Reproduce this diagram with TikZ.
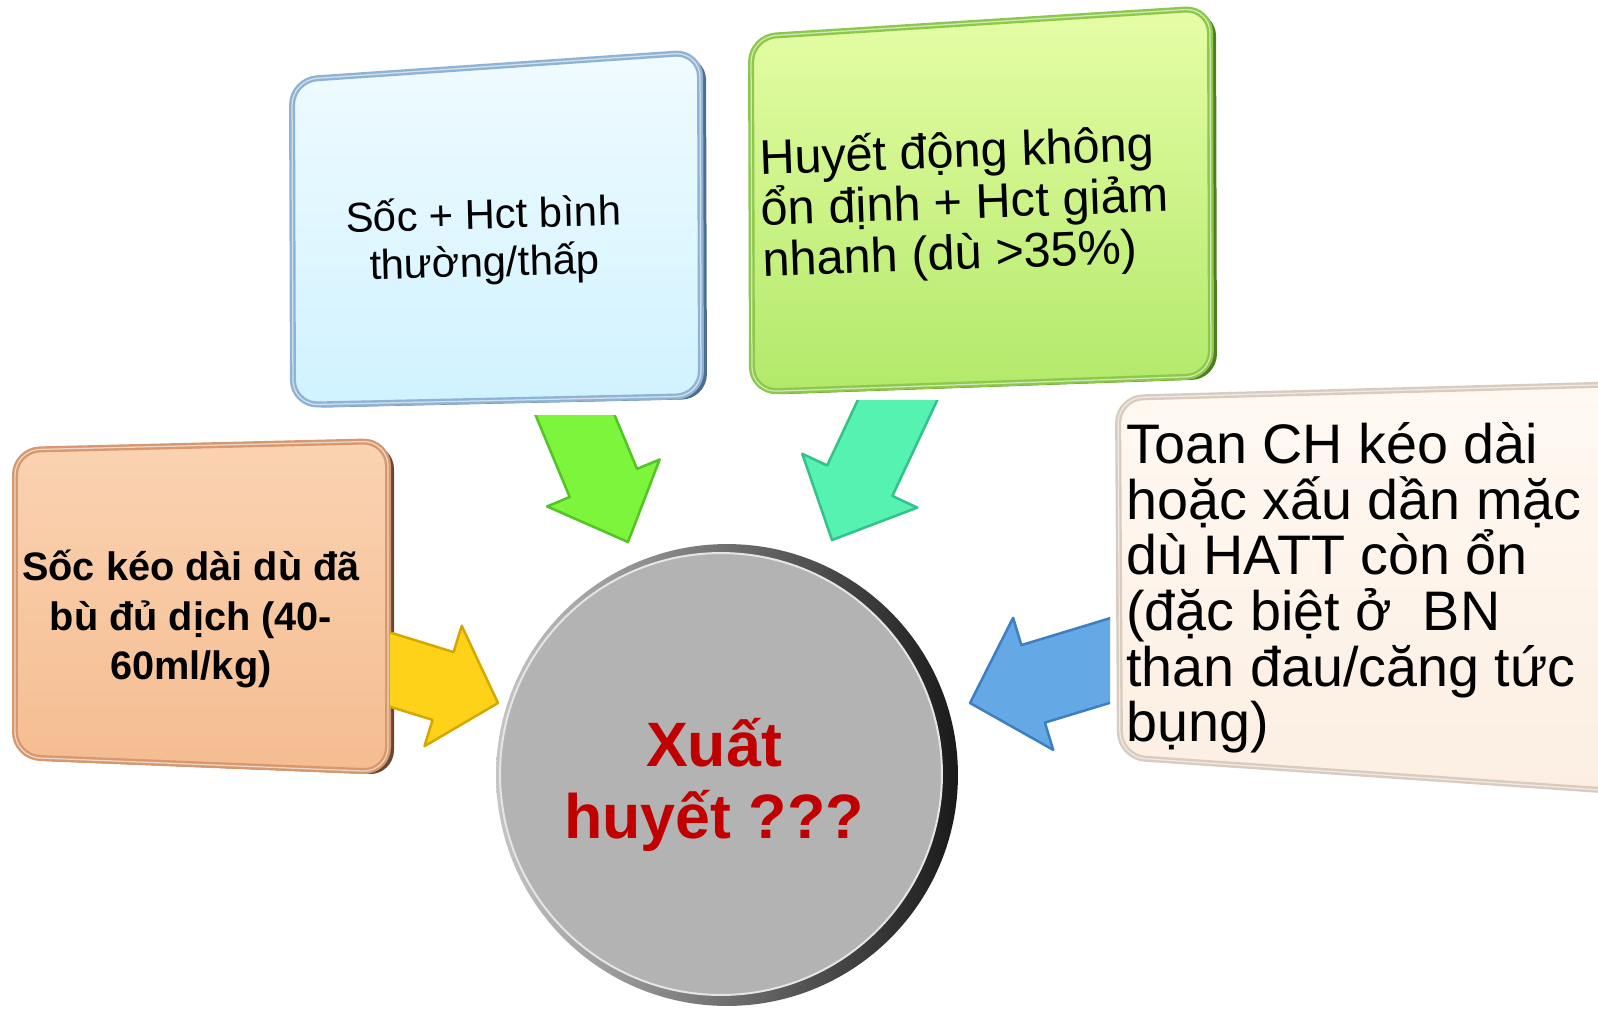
\documentclass[tikz,border=0pt]{standalone}
\usepackage{fontspec}
\setmainfont{Liberation Sans}
\usepackage{tikz}
\usetikzlibrary{calc}
\usetikzlibrary{shadows}

\definecolor{ShockTop}{HTML}{FAD3B2}
\definecolor{ShockBottom}{HTML}{F5BC90}
\definecolor{ShockEdge}{HTML}{D6986E}
\definecolor{ShockSide}{HTML}{6B4530}
\definecolor{LowTop}{HTML}{F0FBFF}
\definecolor{LowBottom}{HTML}{D0F2FF}
\definecolor{LowEdge}{HTML}{8FB3D4}
\definecolor{LowSide}{HTML}{4D6E8F}
\definecolor{UnstTop}{HTML}{E6FDA6}
\definecolor{UnstBottom}{HTML}{B2E96A}
\definecolor{UnstEdge}{HTML}{8CC84A}
\definecolor{UnstSide}{HTML}{507D22}
\definecolor{AcidTop}{HTML}{FFF9F2}
\definecolor{AcidBottom}{HTML}{FCEEE2}
\definecolor{AcidEdge}{HTML}{D9CBBE}
\definecolor{AcidSide}{HTML}{A89A8C}
\definecolor{HubFill}{HTML}{B3B3B3}
\definecolor{BleedRed}{HTML}{C00000}
\definecolor{YelFill}{HTML}{FFD21A}
\definecolor{YelEdge}{HTML}{D4A800}
\definecolor{LimeFill}{HTML}{7CF53C}
\definecolor{LimeEdge}{HTML}{52C424}
\definecolor{TealFill}{HTML}{55F2B2}
\definecolor{TealEdge}{HTML}{33C28A}
\definecolor{BlueFill}{HTML}{64A9E5}
\definecolor{BlueEdge}{HTML}{3E7EC2}

\tikzset{
	bevelbox/.style={rounded corners=0.5cm, line width=0.12cm, line join=round,
		postaction={draw=white, draw opacity=0.6, line width=0.025cm}},
	boxtext/.style={inner sep=0pt, text=black},
	fatarrow/.style={line width=0.05cm, line join=round},
}

\begin{document}
\begin{tikzpicture}[x=0.02cm, y=-0.02cm]

	% ------------------------------------------------
	% Page size as the reference
	\useasboundingbox (0,0) rectangle (1598,1017);
	\clip (0,0) rectangle (1598,1017);

	% ------------------------------------------------
	% Relevant coordinates
	\coordinate (YelTail)  at (361,660.6);
	\coordinate (YelTip)   at (498,703);
	\coordinate (LimeTail) at (559.6,378);
	\coordinate (LimeTip)  at (628,542);
	\coordinate (TealTail) at (914.5,363.8);
	\coordinate (TealTip)  at (832,540);
	\coordinate (BlueTail) at (1138.7,651.8);
	\coordinate (BlueTip)  at (970,703);

	\path (YelTip)  +($(YelTip)!1.15cm!(YelTail)-(YelTip)$)    coordinate (YelBase);
	\path (LimeTip) +($(LimeTip)!1.28cm!(LimeTail)-(LimeTip)$) coordinate (LimeBase);
	\path (TealTip) +($(TealTip)!1.31cm!(TealTail)-(TealTip)$) coordinate (TealBase);
	\path (BlueTip) +($(BlueTip)!1.32cm!(BlueTail)-(BlueTip)$) coordinate (BlueBase);

	% ----------------
	% Boxes
	\draw[bevelbox, general shadow={fill=ShockSide, shadow xshift=0.12cm, shadow yshift=-0.06cm},
		top color=ShockTop, bottom color=ShockBottom, draw=ShockEdge]
		(15,450) -- (388,441) -- (388,772) -- (15,757) -- cycle;
	\draw[bevelbox, general shadow={fill=LowSide, shadow xshift=0.12cm, shadow yshift=-0.06cm},
		top color=LowTop, bottom color=LowBottom, draw=LowEdge]
		(292,80) -- (700,52) -- (701,396) -- (293,405) -- cycle;
	\draw[bevelbox, general shadow={fill=UnstSide, shadow xshift=0.12cm, shadow yshift=-0.06cm},
		top color=UnstTop, bottom color=UnstBottom, draw=UnstEdge]
		(751,37) -- (1210,8) -- (1211,376) -- (752,392) -- cycle;
	\draw[bevelbox, general shadow={fill=AcidSide, shadow xshift=0.06cm, shadow yshift=-0.04cm},
		top color=AcidTop, bottom color=AcidBottom, draw=AcidEdge]
		(1118,398) -- (1630,384) -- (1630,792) -- (1120,757) -- cycle;

	% ----------------
	% Block arrows
	\begin{scope}
		\clip (390,0) rectangle (1598,1017);
		\draw[fatarrow, fill=YelFill, draw=YelEdge]
			($(YelTail)!0.71cm!90:(YelTip)$) -- ($(YelBase)!0.71cm!90:(YelTip)$)
			-- ($(YelBase)!1.26cm!90:(YelTip)$) -- (YelTip)
			-- ($(YelBase)!1.26cm!-90:(YelTip)$) -- ($(YelBase)!0.71cm!-90:(YelTip)$)
			-- ($(YelTail)!0.71cm!-90:(YelTip)$) -- cycle;
	\end{scope}
	\begin{scope}
		\clip (0,415) rectangle (1598,1017);
		\draw[fatarrow, fill=LimeFill, draw=LimeEdge]
			($(LimeTail)!0.73cm!90:(LimeTip)$) -- ($(LimeBase)!0.73cm!90:(LimeTip)$)
			-- ($(LimeBase)!1.22cm!90:(LimeTip)$) -- (LimeTip)
			-- ($(LimeBase)!1.22cm!-90:(LimeTip)$) -- ($(LimeBase)!0.73cm!-90:(LimeTip)$)
			-- ($(LimeTail)!0.73cm!-90:(LimeTip)$) -- cycle;
	\end{scope}
	\begin{scope}
		\clip (0,400) rectangle (1598,1017);
		\draw[fatarrow, fill=TealFill, draw=TealEdge]
			($(TealTail)!0.72cm!90:(TealTip)$) -- ($(TealBase)!0.72cm!90:(TealTip)$)
			-- ($(TealBase)!1.27cm!90:(TealTip)$) -- (TealTip)
			-- ($(TealBase)!1.27cm!-90:(TealTip)$) -- ($(TealBase)!0.72cm!-90:(TealTip)$)
			-- ($(TealTail)!0.72cm!-90:(TealTip)$) -- cycle;
	\end{scope}
	\begin{scope}
		\clip (0,0) rectangle (1110,1017);
		\draw[fatarrow, fill=BlueFill, draw=BlueEdge]
			($(BlueTail)!0.81cm!90:(BlueTip)$) -- ($(BlueBase)!0.81cm!90:(BlueTip)$)
			-- ($(BlueBase)!1.38cm!90:(BlueTip)$) -- (BlueTip)
			-- ($(BlueBase)!1.38cm!-90:(BlueTip)$) -- ($(BlueBase)!0.81cm!-90:(BlueTip)$)
			-- ($(BlueTail)!0.81cm!-90:(BlueTip)$) -- cycle;
	\end{scope}

	% ----------------
	% Central disc
	\shade[left color=gray!45, right color=black!90] (727,775) circle (4.62cm);
	\node[circle, fill=HubFill, draw=white!80!gray, line width=0.04cm,
		minimum size=8.84cm, inner sep=0pt] (Bleed) at (721,774) {};

	%%%%%%%%%%%%%%%%%%%%%%%%%%%%%%%%%%%%%%%%%
	% Texts
	\node[boxtext, align=center, font={\fontsize{22.6}{28.3}\selectfont\bfseries}]
		(ShockText) at (191,619) {Sốc kéo dài dù đã\\bù đủ dịch (40-\\60ml/kg)};
	\node[boxtext, align=center, rotate=1.5, font={\fontsize{23.8}{27.2}\selectfont}]
		(LowText) at (484,241) {Sốc + Hct bình\\thường/thấp};
	\node[boxtext, align=left, anchor=west, rotate=2, font={\fontsize{27.7}{29}\selectfont}]
		(UnstableText) at (761,212) {Huyết động không\\ổn định + Hct giảm\\nhanh (dù >35\%)};
	\node[boxtext, align=left, anchor=west, font={\fontsize{31.7}{31.7}\selectfont}]
		(AcidText) at (1126,588) {Toan CH kéo dài\\hoặc xấu dần mặc\\dù HATT còn ổn\\(đặc biệt ở\ \ BN\\than đau/căng tức\\bụng)};
	\node[inner sep=0pt, align=center, text=BleedRed, font={\fontsize{35.7}{40.8}\selectfont\bfseries}]
		(BleedText) at (714,785) {Xuất\\huyết ???};

\end{tikzpicture}
\end{document}
